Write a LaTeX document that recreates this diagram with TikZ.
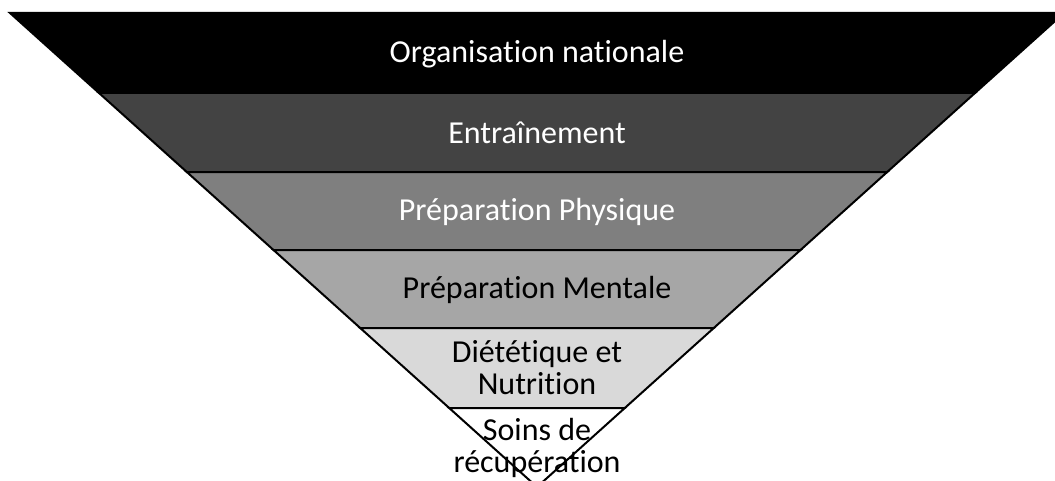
\documentclass[tikz,border=0pt]{standalone}
\usepackage{fontspec}
\setmainfont{Carlito}[Ligatures=NoCommon]
\usepackage{xcolor}
\usepackage{tikz}
\usetikzlibrary{positioning}
\definecolor{bandone}{HTML}{000000}
\definecolor{bandtwo}{HTML}{434343}
\definecolor{bandthree}{HTML}{7F7F7F}
\definecolor{bandfour}{HTML}{A6A6A6}
\definecolor{bandfive}{HTML}{D9D9D9}
\definecolor{bandsix}{HTML}{FFFFFF}
\tikzset{
  levelband/.style={
    draw=black, line width=1.5pt, line join=miter
  },
  levellabel/.style={
    font=\fontsize{24}{24}\selectfont, align=center, inner sep=0pt
  },
}

\begin{document}
\begin{tikzpicture}[x=0.75pt, y=-0.75pt]
  \clip (0,0) rectangle (1055,481);

  % ── Bands of the funnel ──
  \draw[levelband, fill=bandone]
    (10,13) -- (1064,13) -- (975,93) -- (99,93) -- cycle;
  \draw[levelband, fill=bandtwo]
    (99,93) -- (975,93) -- (887.2,172) -- (186.8,172) -- cycle;
  \draw[levelband, fill=bandthree]
    (186.8,172) -- (887.2,172) -- (800.5,250) -- (273.5,250) -- cycle;
  \draw[levelband, fill=bandfour]
    (273.5,250) -- (800.5,250) -- (713.8,328) -- (360.2,328) -- cycle;
  \draw[levelband, fill=bandfive]
    (360.2,328) -- (713.8,328) -- (624.8,408) -- (449.2,408) -- cycle;
  \draw[levelband, fill=bandsix]
    (449.2,408) -- (624.8,408) -- (537,487) -- cycle;

  % ── Labels ──
  \node[levellabel, text=white] (org) at (537,54) {Organisation nationale};
  \node[levellabel, text=white] (train) at (537,133) {Entraînement};
  \node[levellabel, text=white] (phys) at (537,212) {Préparation Physique};
  \node[levellabel] (mental) at (537,290) {Préparation Mentale};
  \node[levellabel] (diet) at (537,368) {Diététique et\\Nutrition};
  \node[levellabel] (soins) at (537,448) {Soins de\\récupération};
\end{tikzpicture}
\end{document}
